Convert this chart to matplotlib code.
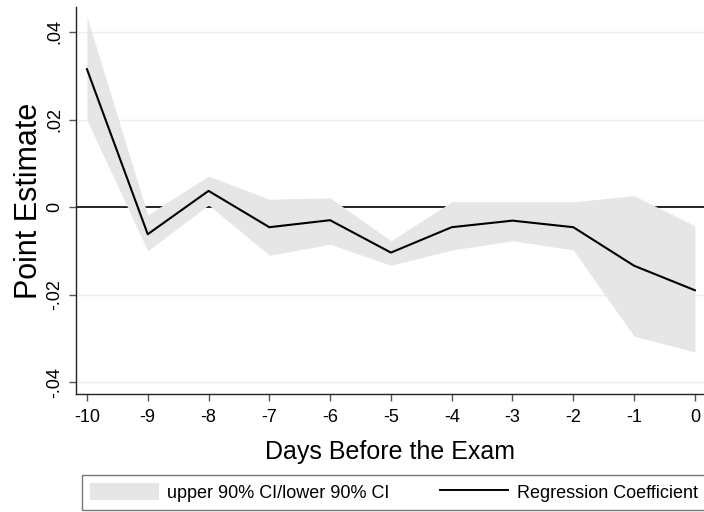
import numpy as np
import matplotlib
matplotlib.use('Agg')
import matplotlib.pyplot as plt
from matplotlib.patches import Patch
from matplotlib.lines import Line2D

plt.rcParams['font.family'] = ['Liberation Sans', 'DejaVu Sans']

days = [-10, -9, -8, -7, -6, -5, -4, -3, -2, -1, 0]
coef = [0.0315, -0.0062, 0.0037, -0.0046, -0.0030, -0.0104, -0.0046, -0.0031, -0.0046, -0.0134, -0.0190]
upper = [0.0435, -0.0018, 0.0071, 0.0018, 0.0021, -0.0077, 0.0012, 0.0012, 0.0012, 0.0026, -0.0043]
lower = [0.0199, -0.0100, 0.0005, -0.0110, -0.0085, -0.0133, -0.0098, -0.0077, -0.0098, -0.0295, -0.0331]

yticks = [-0.04, -0.02, 0, 0.02, 0.04]
ytick_labels = ['-.04', '-.02', '0', '.02', '.04']

fig = plt.figure(figsize=(7.04, 5.12), dpi=100)
ax = fig.add_axes([76/704, 118/512, 628/704, 387/512])

for y in yticks:
    if y != 0:
        ax.axhline(y, color='#eceef3', lw=1.0, zorder=0)
ax.axhline(0, color='black', lw=1.2, zorder=1)

ax.fill_between(days, lower, upper, color='#e6e6e6', lw=0, zorder=2)
ax.plot(days, coef, color='black', lw=1.5, zorder=3)

ax.set_xlim(-10.18, 0.15)
ax.set_ylim(-0.0427, 0.0457)
ax.set_xticks(days)
ax.set_xticklabels([str(d) for d in days], fontsize=13)
ax.set_yticks(yticks)
ax.set_yticklabels(ytick_labels, fontsize=13, rotation=90, va='center')

for s in ['top', 'right']:
    ax.spines[s].set_visible(False)
for s in ['left', 'bottom']:
    ax.spines[s].set_color('#222222')
    ax.spines[s].set_linewidth(1.0)
ax.tick_params(length=5, width=1, color='#555555', pad=6)
ax.tick_params(axis='y', pad=4)

ax.set_xlabel('Days Before the Exam', fontsize=18, labelpad=10)
ax.set_ylabel('Point Estimate', fontsize=22, labelpad=2)

handles = [Patch(facecolor='#e6e6e6', edgecolor='none'),
           Line2D([], [], color='black', lw=1.4)]
leg = fig.legend(handles, ['upper 90% CI/lower 90% CI', 'Regression Coefficient'],
                 loc='lower left', bbox_to_anchor=(82/704, 2/512), ncol=2,
                 fontsize=13, frameon=True, fancybox=False, handlelength=3.8,
                 handleheight=1.1, handletextpad=0.45, columnspacing=2.8,
                 borderpad=0.45, borderaxespad=0)
leg.get_frame().set_edgecolor('#555555')
leg.get_frame().set_linewidth(1.0)

fig.savefig('out.png', dpi=100)
